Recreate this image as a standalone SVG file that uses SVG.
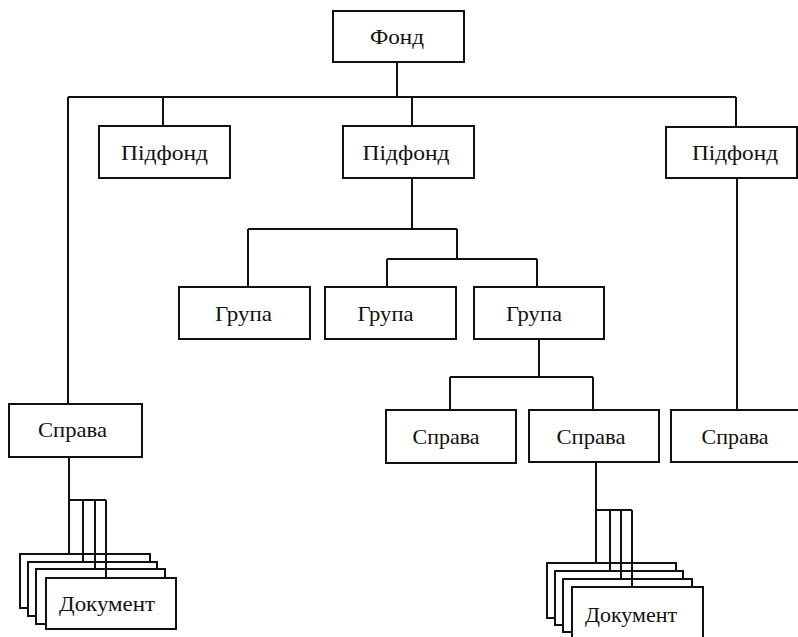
<svg xmlns="http://www.w3.org/2000/svg" width="798" height="637" viewBox="0 0 798 637">
  <style>
    .box { fill: #ffffff; stroke: #111111; stroke-width: 2; }
    .wire { fill: none; stroke: #111111; stroke-width: 2; }
    .lbl { font-family: "Liberation Serif", "Times New Roman", serif; font-size: 22px; fill: #111111; text-anchor: middle; }
  </style>
  <rect x="0" y="0" width="798" height="637" fill="#ffffff"/>

  <!-- hierarchy connectors -->
  <g id="connectors" class="wire">
    <!-- fund to sub-funds -->
    <path d="M397 62 V97 M68 97 H736 M163 97 V126 M412 97 V126 M736 97 V127 M68 97 V404"/>
    <!-- middle sub-fund to groups -->
    <path d="M412 178 V229 M248 229 H457 M248 229 V287 M457 229 V259 M387 259 H537 M387 259 V287 M537 259 V287"/>
    <!-- right group to files -->
    <path d="M539 339 V377 M450 377 H593 M450 377 V410 M593 377 V410"/>
    <!-- right sub-fund to file -->
    <path d="M737 178 V410"/>
    <!-- left file to documents -->
    <path d="M69 457 V554 M69 500 H106 M83 500 V562 M95 500 V569 M106 500 V578"/>
    <!-- middle file to documents -->
    <path d="M596 462 V563 M596 510 H632 M610 510 V571 M621 510 V579 M632 510 V587"/>
  </g>

  <g id="fond">
    <rect class="box" x="333" y="11" width="131" height="51"/>
    <text class="lbl" x="397" y="44" textLength="54" lengthAdjust="spacingAndGlyphs">Фонд</text>
  </g>

  <g id="pidfond-1">
    <rect class="box" x="99" y="126" width="131" height="52"/>
    <text class="lbl" x="164.5" y="160" textLength="87" lengthAdjust="spacingAndGlyphs">Підфонд</text>
  </g>
  <g id="pidfond-2">
    <rect class="box" x="343" y="126" width="131" height="52"/>
    <text class="lbl" x="406" y="160" textLength="87" lengthAdjust="spacingAndGlyphs">Підфонд</text>
  </g>
  <g id="pidfond-3">
    <rect class="box" x="666" y="127" width="131" height="51"/>
    <text class="lbl" x="735" y="160" textLength="86" lengthAdjust="spacingAndGlyphs">Підфонд</text>
  </g>

  <g id="grupa-1">
    <rect class="box" x="179" y="287" width="131" height="52"/>
    <text class="lbl" x="243.5" y="321" textLength="57" lengthAdjust="spacingAndGlyphs">Група</text>
  </g>
  <g id="grupa-2">
    <rect class="box" x="325" y="287" width="131" height="52"/>
    <text class="lbl" x="385.5" y="321" textLength="56" lengthAdjust="spacingAndGlyphs">Група</text>
  </g>
  <g id="grupa-3">
    <rect class="box" x="474" y="287" width="130" height="52"/>
    <text class="lbl" x="534" y="321" textLength="56" lengthAdjust="spacingAndGlyphs">Група</text>
  </g>

  <g id="sprava-1">
    <rect class="box" x="9" y="404" width="133" height="53"/>
    <text class="lbl" x="72.5" y="437" textLength="69" lengthAdjust="spacingAndGlyphs">Справа</text>
  </g>
  <g id="sprava-2">
    <rect class="box" x="386" y="410" width="130" height="53"/>
    <text class="lbl" x="446" y="444" textLength="67" lengthAdjust="spacingAndGlyphs">Справа</text>
  </g>
  <g id="sprava-3">
    <rect class="box" x="529" y="410" width="130" height="52"/>
    <text class="lbl" x="591" y="444" textLength="69" lengthAdjust="spacingAndGlyphs">Справа</text>
  </g>
  <g id="sprava-4">
    <rect class="box" x="671" y="410" width="133" height="52"/>
    <text class="lbl" x="735" y="444" textLength="67" lengthAdjust="spacingAndGlyphs">Справа</text>
  </g>

  <!-- stacked document cards under the left file -->
  <g id="dokument-1">
    <rect class="box" x="20" y="554" width="130" height="54"/>
    <rect class="box" x="28" y="562" width="129" height="54"/>
    <rect class="box" x="36" y="569" width="129" height="55"/>
    <rect class="box" x="46" y="578" width="130" height="51"/>
    <path class="wire" d="M83 554 V562 M95 554 V569 M106 554 V578"/>
    <text class="lbl" x="107" y="611" textLength="96" lengthAdjust="spacingAndGlyphs">Документ</text>
  </g>

  <!-- stacked document cards under the middle file -->
  <g id="dokument-2">
    <rect class="box" x="547" y="563" width="129" height="55"/>
    <rect class="box" x="555" y="571" width="128" height="54"/>
    <rect class="box" x="563" y="579" width="129" height="53"/>
    <rect class="box" x="572" y="587" width="131" height="56"/>
    <path class="wire" d="M610 563 V571 M621 563 V579 M632 563 V587"/>
    <text class="lbl" x="631" y="622" textLength="92" lengthAdjust="spacingAndGlyphs">Документ</text>
  </g>
</svg>
